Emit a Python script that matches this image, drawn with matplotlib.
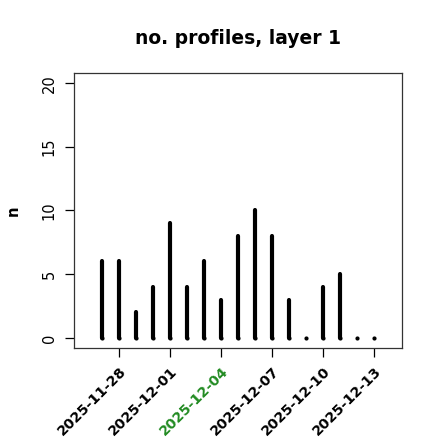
import matplotlib
matplotlib.use("Agg")
import matplotlib.pyplot as plt
import matplotlib.dates as mdates
import numpy as np
import datetime as dt

dates = ["2025-11-27", "2025-11-28", "2025-11-29", "2025-11-30", "2025-12-01",
         "2025-12-02", "2025-12-03", "2025-12-04", "2025-12-05", "2025-12-06",
         "2025-12-07", "2025-12-08", "2025-12-09", "2025-12-10", "2025-12-11",
         "2025-12-12", "2025-12-13"]
counts = [6, 6, 2, 4, 9, 4, 6, 3, 8, 10, 8, 3, 0, 4, 5, 0, 0]
tick_dates = ["2025-11-28", "2025-12-01", "2025-12-04", "2025-12-07", "2025-12-10", "2025-12-13"]
tick_colors = ["black", "black", "#228B22", "black", "black", "black"]
y_ticks = [0, 5, 10, 15, 20]
title = "no. profiles, layer 1"
ylabel = "n"

x = [dt.datetime.strptime(d, "%Y-%m-%d") for d in dates]
xn = mdates.date2num(x)
tx = mdates.date2num([dt.datetime.strptime(d, "%Y-%m-%d") for d in tick_dates])

fig = plt.figure(figsize=(4.4, 4.4), dpi=100)
ax = fig.add_axes([74/440, 1-348/440, (402-74)/440, (348-73)/440])

ax.vlines(xn, 0, counts, colors="black", linewidth=3.0, capstyle="round")
ax.scatter(xn, np.zeros(len(xn)), s=9, color="black", zorder=3, linewidths=0)

ax.set_xlim(xn[0] - 1.65, xn[-1] + 1.65)
ax.set_ylim(-0.8, 20.8)
ax.set_yticks(y_ticks)
ax.set_yticklabels([str(v) for v in y_ticks], rotation=90, va="center", fontsize=10.5)
ax.set_xticks(tx)
ax.set_xticklabels(tick_dates, rotation=45, ha="right", rotation_mode="anchor",
                   fontsize=10.2, fontweight="bold")
for lbl, c in zip(ax.get_xticklabels(), tick_colors):
    lbl.set_color(c)
ax.tick_params(axis="both", length=6.5, width=0.9, direction="out")
ax.tick_params(axis="y", pad=6)
ax.tick_params(axis="x", pad=5)
for s in ax.spines.values():
    s.set_linewidth(0.9)
    s.set_color("#333333")

ax.set_title(title, fontsize=13.5, fontweight="bold", pad=21)
ax.set_ylabel(ylabel, fontsize=10.5, fontweight="bold", labelpad=15)

fig.savefig("out.png", dpi=100)
